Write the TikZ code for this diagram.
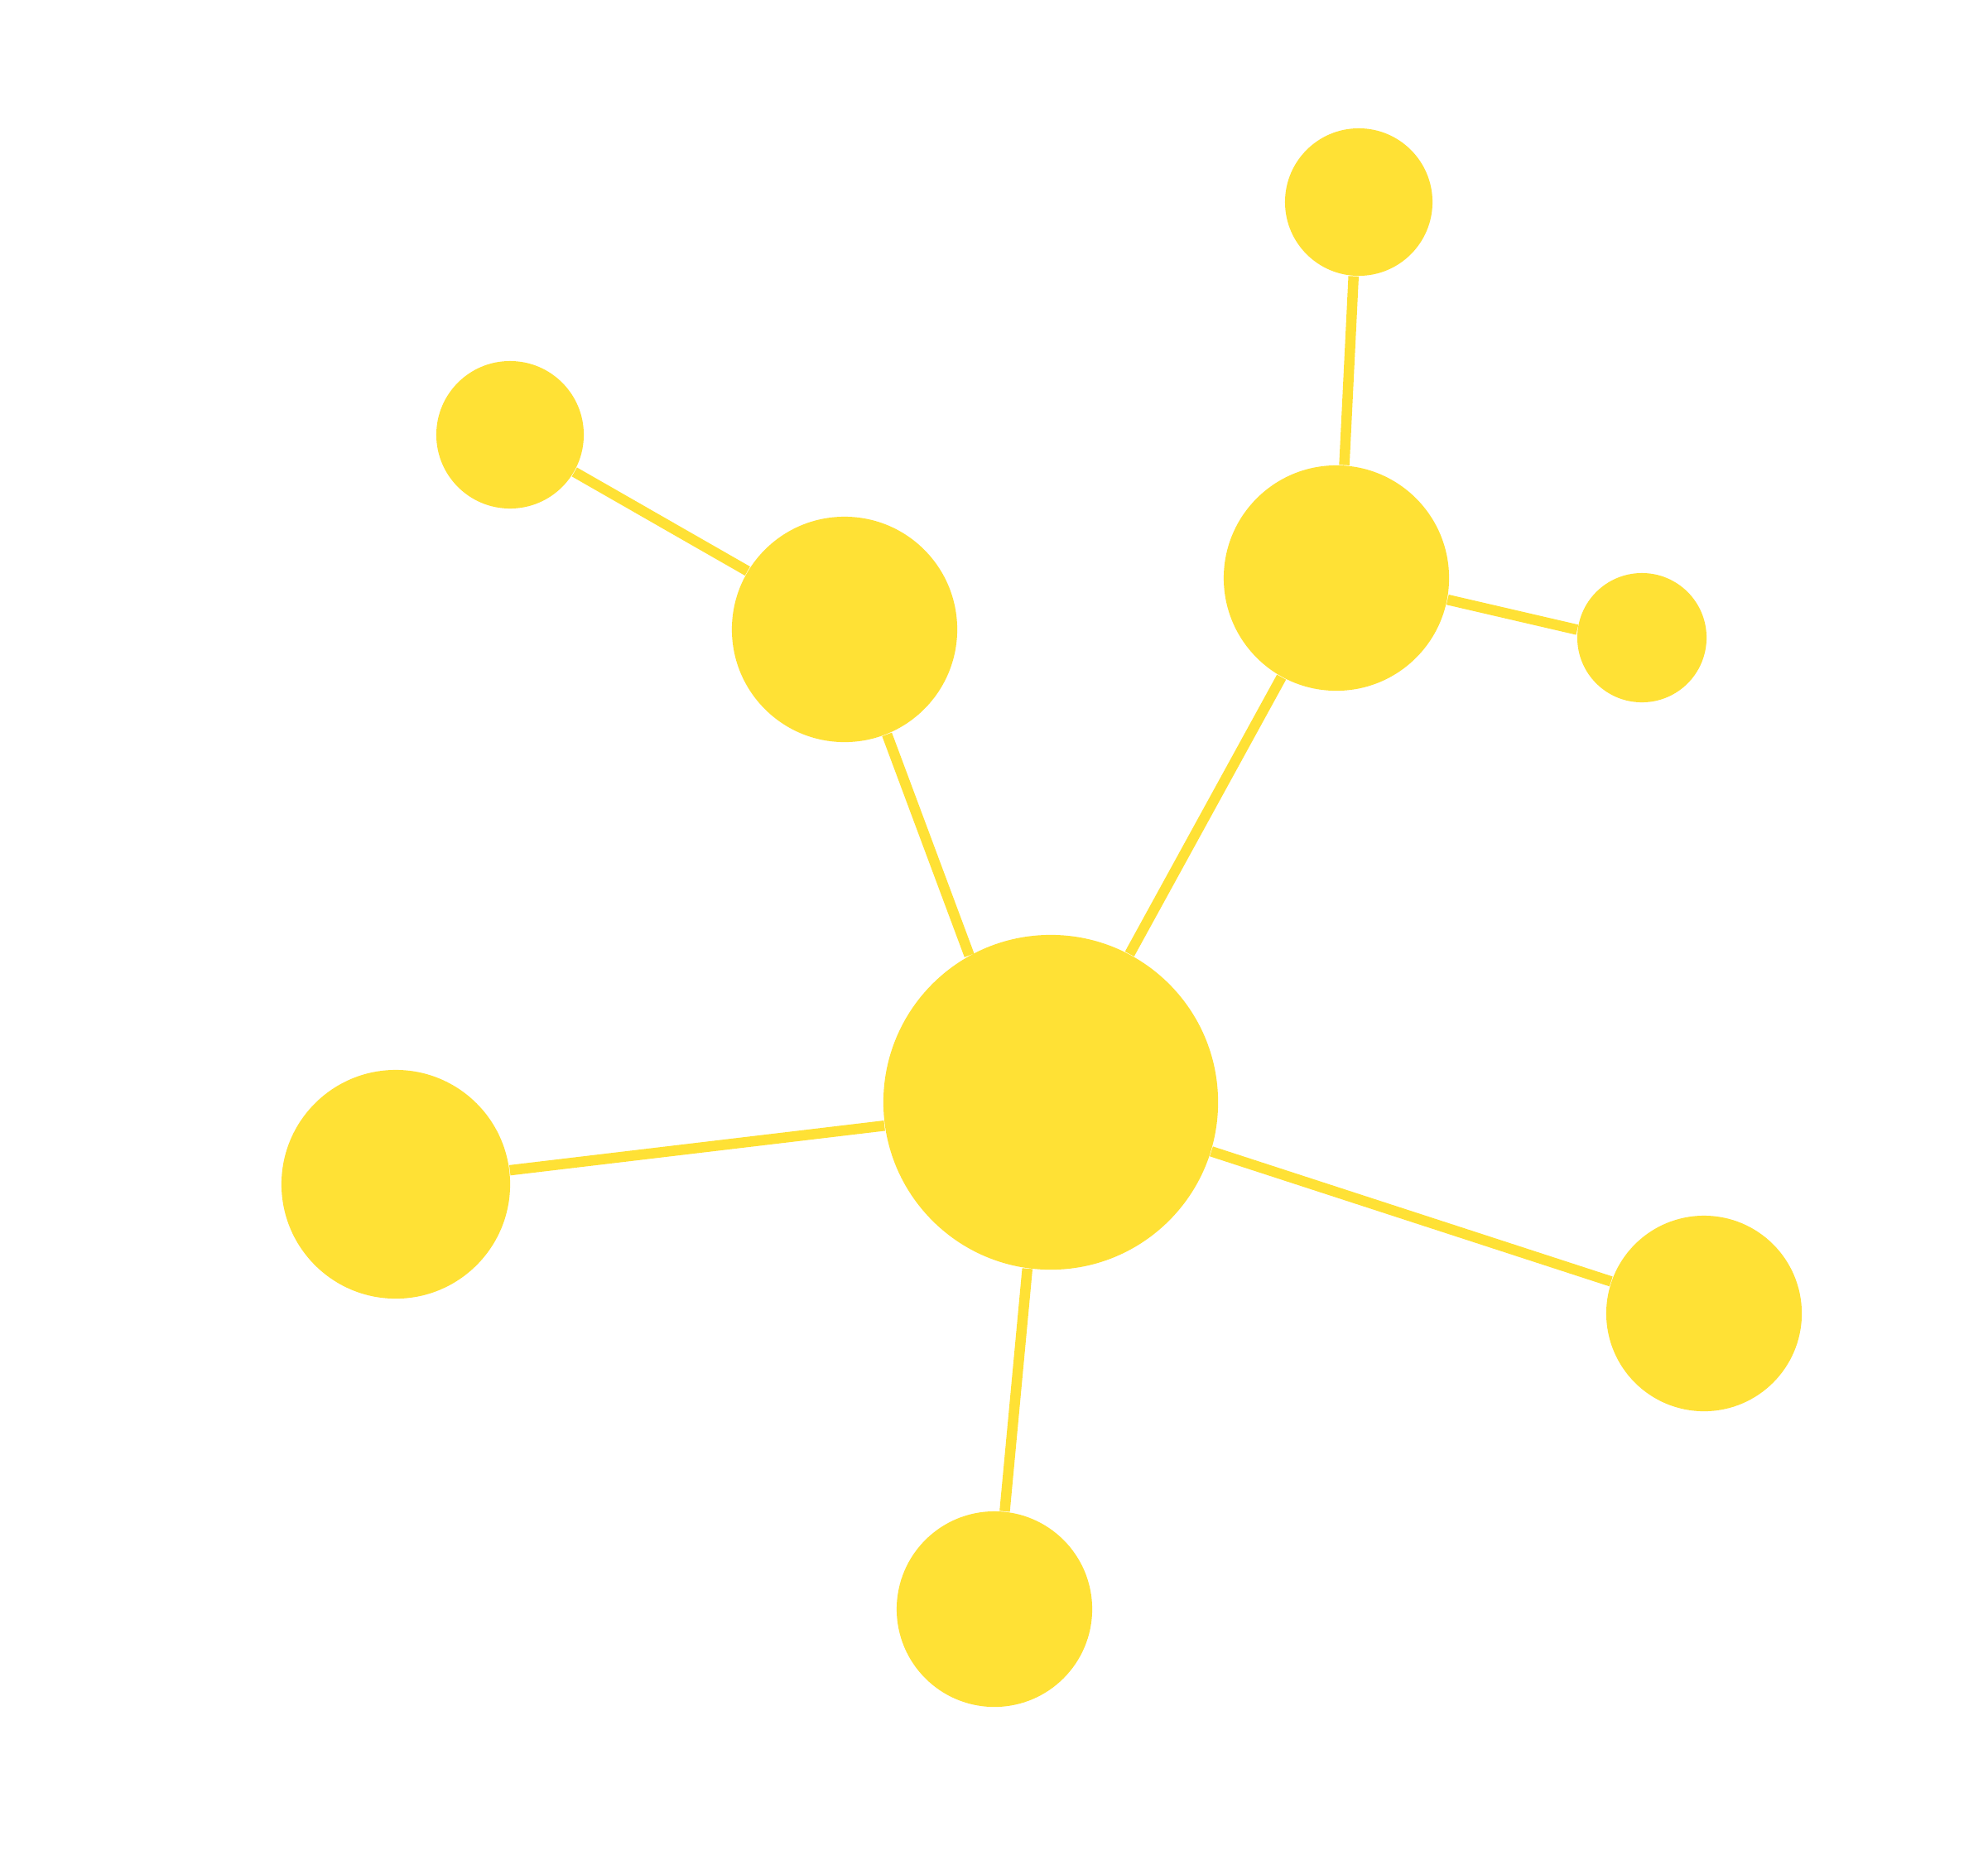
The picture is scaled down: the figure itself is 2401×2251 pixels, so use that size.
\documentclass[tikz,border=0pt]{standalone}
\definecolor{dotyellow}{RGB}{255,225,53}
\tikzset{
  atom/.style={circle, fill=dotyellow, draw=none, inner sep=0pt, minimum size=#1},
  bond/.style={draw=dotyellow, line width=0.125cm, line cap=butt}
}
\begin{document}
\begin{tikzpicture}[x=0.01cm,y=-0.01cm]
\useasboundingbox (0,0) rectangle (2401,2251);
\node[atom=4.04cm] (C) at (1269,1331) {};
\node[atom=2.72cm] (A) at (1020,760) {};
\node[atom=1.78cm] (B) at (616,525) {};
\node[atom=2.72cm] (D) at (1614,698) {};
\node[atom=1.78cm] (E) at (1641,244) {};
\node[atom=1.56cm] (F) at (1983,770) {};
\node[atom=2.76cm] (G) at (478,1430) {};
\node[atom=2.36cm] (H) at (2058,1586) {};
\node[atom=2.36cm] (I) at (1201,1943) {};
\draw[bond] (B.-30.2) -- (A.149.7);
\draw[bond] (A.-68.5) -- (C.119.1);
\draw[bond] (E.266.7) -- (D.86.1);
\draw[bond] (D.241) -- (C.62);
\draw[bond] (D.-11.4) -- (F.173.2);
\draw[bond] (G.7.6) -- (C.188.5);
\draw[bond] (C.-17.8) -- (H.161.8);
\draw[bond] (C.262.2) -- (I.84);
\end{tikzpicture}
\end{document}
